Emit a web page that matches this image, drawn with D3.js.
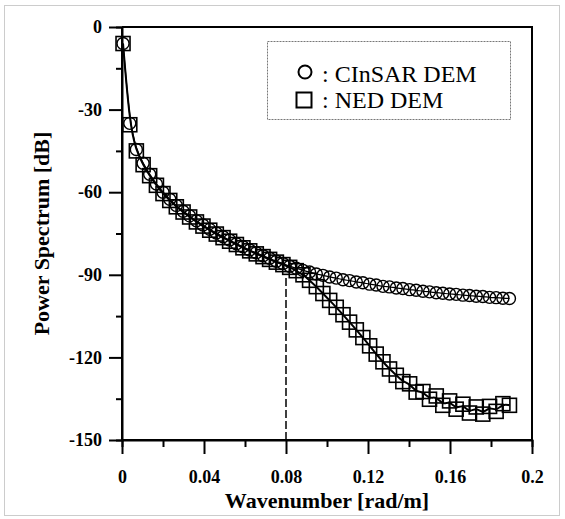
<!DOCTYPE html>
<html>
<head>
<meta charset="utf-8">
<script src="https://cdn.jsdelivr.net/npm/d3@7"></script>
<style>
    body { margin: 0; background: #fff; }
    svg { display: block; }
</style>
</head>
<body>
<svg width="565" height="519"></svg>
<script>
let wavenumber = [
    0.0005, 0.0038, 0.0070, 0.0103, 0.0135, 0.0168, 0.0200, 0.0233, 0.0265, 0.0298,
    0.0330, 0.0363, 0.0395, 0.0428, 0.0460, 0.0493, 0.0525, 0.0558, 0.0590, 0.0623,
    0.0655, 0.0688, 0.0720, 0.0753, 0.0785, 0.0818, 0.0850, 0.0883, 0.0915, 0.0948,
    0.0980, 0.1013, 0.1045, 0.1078, 0.1110, 0.1143, 0.1175, 0.1208, 0.1240, 0.1273,
    0.1305, 0.1338, 0.1370, 0.1403, 0.1435, 0.1468, 0.1500, 0.1533, 0.1565, 0.1598,
    0.1630, 0.1663, 0.1695, 0.1728, 0.1760, 0.1793, 0.1825, 0.1858, 0.1890
];

let cinsarDem = [
    -6.0, -35.0, -44.5, -49.5, -53.5, -57.0, -60.0, -62.6, -64.8, -66.9,
    -68.6, -70.4, -71.9, -73.5, -74.8, -76.2, -77.4, -78.7, -79.8, -81.0,
    -82.0, -83.1, -84.0, -85.1, -85.9, -86.9, -87.6, -88.4, -89.0, -89.7,
    -90.2, -90.8, -91.2, -91.8, -92.1, -92.6, -92.9, -93.4, -93.7, -94.2,
    -94.4, -94.8, -95.0, -95.4, -95.6, -96.0, -96.2, -96.5, -96.7, -97.0,
    -97.1, -97.4, -97.5, -97.8, -97.9, -98.2, -98.3, -98.5, -98.6
];

let nedDem = [
    -6.0, -35.5, -45.0, -50.0, -54.0, -57.5, -60.5, -63.0, -65.3, -67.2,
    -69.0, -70.8, -72.3, -73.8, -75.2, -76.5, -77.8, -79.0, -80.2, -81.3,
    -82.4, -83.4, -84.4, -85.4, -86.3, -87.3, -88.5, -90.0, -92.0, -94.3,
    -96.8, -99.3, -101.8, -104.5, -107.2, -110.0, -112.8, -115.8, -118.8, -121.6,
    -124.2, -126.5, -128.8, -129.6, -132.6, -132.4, -135.2, -134.0, -137.4, -135.8,
    -138.8, -137.0, -140.2, -138.0, -140.6, -137.8, -139.6, -136.8, -137.4
];

let xTicks = [0, 0.04, 0.08, 0.12, 0.16, 0.2];
let xMinorTicks = [0.02, 0.06, 0.10, 0.14, 0.18];
let yTicks = [0, -30, -60, -90, -120, -150];
let yMinorTicks = [-15, -45, -75, -105, -135];
let cutoff = 0.08;

function draw() {
    let svg = d3.select("svg");
    let left = 122, right = 532, top = 27, bottom = 440;
    let font = "'Liberation Serif', 'Times New Roman', serif";

    let x = d3.scaleLinear().domain([0, 0.2]).range([left, right]);
    let y = d3.scaleLinear().domain([-150, 0]).range([bottom, top]);

    // outer dotted frame of the figure
    svg.append("rect")
        .attr("x", 4.5).attr("y", 5.5)
        .attr("width", 555).attr("height", 510)
        .style("fill", "none")
        .style("stroke", "#999")
        .style("stroke-width", 1)
        .style("stroke-dasharray", "1,1");

    let xAxis = svg.append("g")
        .attr("transform", `translate(0,${bottom})`)
        .call(d3.axisBottom(x).tickValues(xTicks).tickSize(14).tickPadding(16)
            .tickFormat(d => String(+d.toFixed(2))));
    svg.append("g")
        .attr("transform", `translate(0,${bottom})`)
        .call(d3.axisBottom(x).tickValues(xMinorTicks).tickSize(7).tickFormat(""));

    let yAxis = svg.append("g")
        .attr("transform", `translate(${left},0)`)
        .call(d3.axisLeft(y).tickValues(yTicks).tickSize(13).tickPadding(7)
            .tickFormat(d => String(d)));
    svg.append("g")
        .attr("transform", `translate(${left},0)`)
        .call(d3.axisLeft(y).tickValues(yMinorTicks).tickSize(6).tickFormat(""));

    svg.selectAll(".domain").style("stroke-width", 2);
    svg.selectAll(".tick line").style("stroke-width", 2);
    svg.selectAll(".tick text")
        .style("font-family", font)
        .style("font-weight", "bold")
        .style("font-size", "18px")
        .style("fill", "#000");
    xAxis.selectAll(".domain").attr("d", `M${left},0H${right}`);
    yAxis.selectAll(".domain").attr("d", `M0,${bottom}V${top}`);

    // top and right frame
    svg.append("path")
        .attr("d", `M${left},${top}H${right}V${bottom}`)
        .style("fill", "none")
        .style("stroke", "#000")
        .style("stroke-width", 2);

    // cutoff wavenumber
    svg.append("line")
        .attr("x1", x(cutoff)).attr("x2", x(cutoff))
        .attr("y1", y(-150)).attr("y2", y(-90))
        .style("stroke", "#000")
        .style("stroke-width", 1.5)
        .style("stroke-dasharray", "8,3");

    let cinsar = wavenumber.map((k, i) => [k, cinsarDem[i]]);
    let ned = wavenumber.map((k, i) => [k, nedDem[i]]);

    let line = d3.line()
        .x(d => x(d[0]))
        .y(d => y(d[1]))
        .curve(d3.curveBasis);

    svg.append("path")
        .datum(ned)
        .attr("d", line)
        .style("fill", "none")
        .style("stroke", "#000")
        .style("stroke-width", 2);

    svg.selectAll("rect.ned")
        .data(ned)
        .enter()
        .append("rect")
        .attr("class", "ned")
        .attr("x", d => x(d[0]) - 7)
        .attr("y", d => y(d[1]) - 7)
        .attr("width", 14)
        .attr("height", 14)
        .style("fill", "none")
        .style("stroke", "#000")
        .style("stroke-width", 1.6);

    svg.append("path")
        .datum(cinsar)
        .attr("d", line)
        .style("fill", "none")
        .style("stroke", "#000")
        .style("stroke-width", 1.2);

    svg.selectAll("circle.cinsar")
        .data(cinsar)
        .enter()
        .append("circle")
        .attr("class", "cinsar")
        .attr("cx", d => x(d[0]))
        .attr("cy", d => y(d[1]))
        .attr("r", 6)
        .style("fill", "none")
        .style("stroke", "#000")
        .style("stroke-width", 1.4);

    // legend
    let legend = svg.append("g");
    legend.append("rect")
        .attr("x", 267.5).attr("y", 41.5)
        .attr("width", 243).attr("height", 78)
        .style("fill", "#fff")
        .style("stroke", "#777")
        .style("stroke-width", 1)
        .style("stroke-dasharray", "2,1");
    legend.append("circle")
        .attr("cx", 305).attr("cy", 72).attr("r", 6.5)
        .style("fill", "none").style("stroke", "#000").style("stroke-width", 2);
    legend.append("rect")
        .attr("x", 296.5).attr("y", 92.5).attr("width", 15).attr("height", 15)
        .style("fill", "none").style("stroke", "#000").style("stroke-width", 2);
    legend.selectAll("text")
        .data([[": CInSAR DEM", 82], [":  NED DEM", 108]])
        .enter()
        .append("text")
        .attr("x", 322)
        .attr("y", d => d[1])
        .text(d => d[0])
        .style("font-family", font)
        .style("font-size", "24px")
        .style("fill", "#000");

    // axis titles
    svg.append("text")
        .attr("x", (left + right) / 2)
        .attr("y", 508)
        .attr("text-anchor", "middle")
        .text("Wavenumber [rad/m]")
        .style("font-family", font)
        .style("font-weight", "bold")
        .style("font-size", "22px");

    svg.append("text")
        .attr("transform", `translate(49,${(top + bottom) / 2}) rotate(-90)`)
        .attr("text-anchor", "middle")
        .text("Power Spectrum [dB]")
        .style("font-family", font)
        .style("font-weight", "bold")
        .style("font-size", "22px");
}

draw();
</script>
</body>
</html>
